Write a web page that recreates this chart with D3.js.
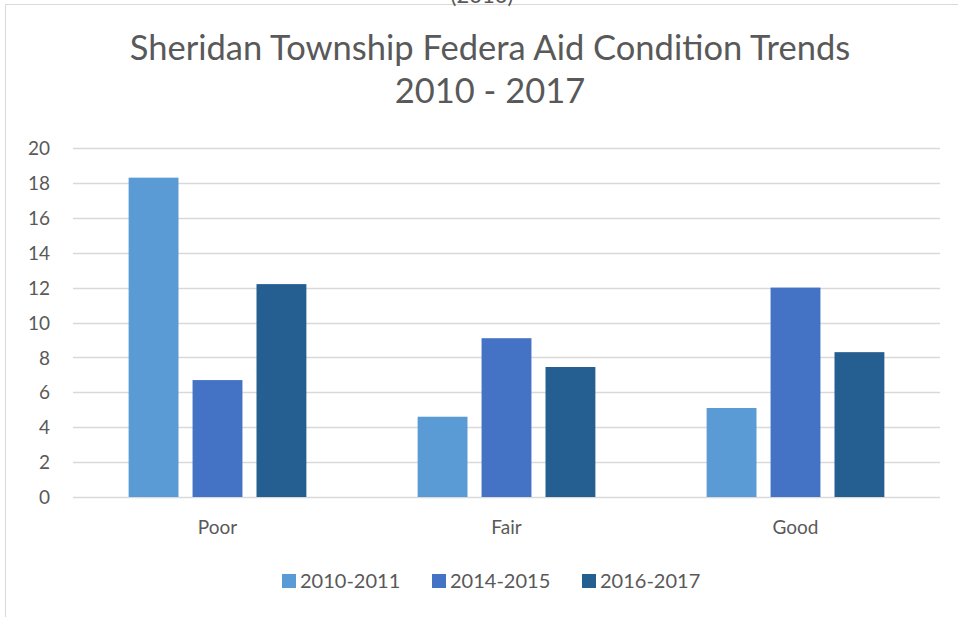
<!DOCTYPE html>
<html>
<head>
<meta charset="UTF-8">
<script src="https://d3js.org/d3.v7.min.js"></script>
<style>
  body { margin: 0; padding: 0; background: #fff; overflow: hidden; }
  svg text { font-family: Lato, 'Open Sans', sans-serif; fill: #595959; }
</style>
</head>
<body>
<div id="chart"></div>
<script>
  // data
  const categories = ["Poor", "Fair", "Good"];
  const seriesNames = ["2010-2011", "2014-2015", "2016-2017"];
  const series2010 = [18.3, 4.6, 5.1];
  const series2014 = [6.7, 9.1, 12.0];
  const series2016 = [12.2, 7.45, 8.3];
  const yTicks = [0, 2, 4, 6, 8, 10, 12, 14, 16, 18, 20];
  const colors = ["#5b9bd5", "#4472c4", "#255e91"];

  const allSeries = [series2010, series2014, series2016];
  const width = 958, height = 617;
  const margin = { top: 148, right: 18, bottom: 120, left: 73 };

  const svg = d3.select("#chart").append("svg")
    .attr("width", width)
    .attr("height", height);

  // frame of the chart area (cut off on the right and bottom)
  svg.append("path")
    .attr("d", "M5.5,617 V4.5 H958")
    .attr("fill", "none")
    .attr("stroke", "#d9d9d9");

  // text cut off above the frame, as in the source
  svg.append("text")
    .attr("x", 482).attr("y", 3)
    .attr("text-anchor", "middle")
    .style("font-size", "22px")
    .text("(2010)");

  svg.append("text")
    .attr("x", 490).attr("y", 60)
    .attr("text-anchor", "middle")
    .style("font-size", "34.5px")
    .text("Sheridan Township Federa Aid Condition Trends");
  svg.append("text")
    .attr("x", 490).attr("y", 103)
    .attr("text-anchor", "middle")
    .style("font-size", "34.5px")
    .text("2010 - 2017");

  const x = d3.scaleBand()
    .domain(categories)
    .range([margin.left, width - margin.right]);

  const xInner = d3.scaleBand()
    .domain(seriesNames)
    .range([0, x.bandwidth()])
    .paddingInner(0.22)
    .paddingOuter(0.87);

  const y = d3.scaleLinear()
    .domain([0, 20])
    .range([height - margin.bottom, margin.top]);

  // gridlines
  svg.append("g")
    .selectAll("line")
    .data(yTicks)
    .enter().append("line")
    .attr("x1", margin.left)
    .attr("x2", width - margin.right)
    .attr("y1", d => Math.round(y(d)) + 0.5)
    .attr("y2", d => Math.round(y(d)) + 0.5)
    .attr("stroke", "#d9d9d9")
    .attr("stroke-width", 1.3);

  // y labels
  const yAxis = svg.append("g")
    .attr("transform", `translate(${margin.left - 23},0)`)
    .call(d3.axisLeft(y).tickValues(yTicks).tickSize(0).tickPadding(0));
  yAxis.select(".domain").remove();
  yAxis.selectAll("text")
    .style("font-size", "19px")
    .attr("dy", "0.35em")
    .style("fill", "#595959");

  // bars
  svg.append("g")
    .selectAll("g")
    .data(categories)
    .enter().append("g")
    .attr("transform", d => `translate(${x(d)},0)`)
    .selectAll("rect")
    .data((d, i) => seriesNames.map((s, j) => ({ s, v: allSeries[j][i], j })))
    .enter().append("rect")
    .attr("x", d => xInner(d.s))
    .attr("width", xInner.bandwidth())
    .attr("y", d => y(d.v))
    .attr("height", d => y(0) - y(d.v))
    .attr("fill", d => colors[d.j]);

  // x labels
  const xAxis = svg.append("g")
    .attr("transform", `translate(0,${y(0)})`)
    .call(d3.axisBottom(x).tickSize(0).tickPadding(0));
  xAxis.select(".domain").remove();
  xAxis.selectAll("text")
    .attr("dy", "0")
    .attr("y", 37)
    .style("font-size", "19px")
    .style("fill", "#595959");

  // legend
  const legendX = [282, 432, 582];
  const legend = svg.append("g")
    .selectAll("g")
    .data(seriesNames)
    .enter().append("g")
    .attr("transform", (d, i) => `translate(${legendX[i]},574)`);
  legend.append("rect")
    .attr("width", 14).attr("height", 14)
    .attr("fill", (d, i) => colors[i]);
  legend.append("text")
    .attr("x", 18).attr("y", 14)
    .style("font-size", "20px")
    .text(d => d);
</script>
</body>
</html>
